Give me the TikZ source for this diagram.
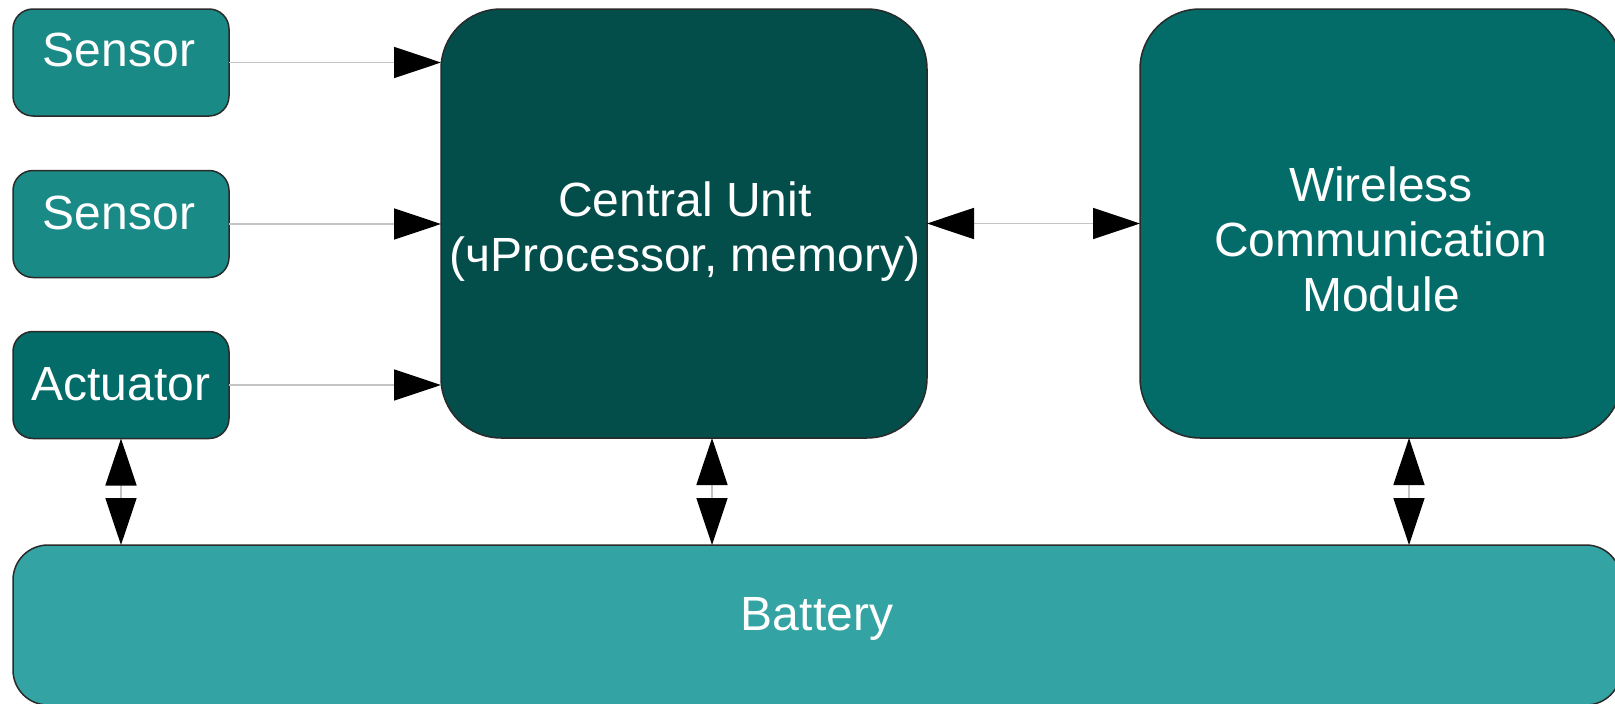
\documentclass[tikz,border=0pt]{standalone}
\usepackage{fontspec}
\setmainfont{Liberation Sans}
\usetikzlibrary{arrows.meta}

\definecolor{sensorfill}{HTML}{1A8A87}
\definecolor{actfill}{HTML}{036B68}
\definecolor{cpufill}{HTML}{034D4B}
\definecolor{radiofill}{HTML}{036B68}
\definecolor{battfill}{HTML}{33A3A3}
\definecolor{edgecol}{HTML}{2A2A2A}
\definecolor{linkcol}{HTML}{C4C4C4}

\begin{document}
\begin{tikzpicture}[x=1pt,y=-1pt,
  block/.style={draw=edgecol, line width=1.5pt, inner sep=0pt, outer sep=0pt},
  smallblock/.style={block, rounded corners=20pt, minimum width=216pt, minimum height=107pt},
  bigblock/.style={block, rounded corners=60pt, minimum height=429pt},
  lbl/.style={text=white, font=\fontsize{48}{55}\selectfont, align=center, inner sep=0pt},
  link/.style={draw=linkcol, line width=1.5pt},
  bighead/.style={-{Triangle[length=47pt,width=31pt,color=black]}},
  bothheads/.style={{Triangle[length=47pt,width=31pt,color=black]}-{Triangle[length=47pt,width=31pt,color=black]}}]
\useasboundingbox (0,0) rectangle (1615,704);

% blocks
\node[smallblock, fill=sensorfill] (s1) at (121,62.5) {};
\node[smallblock, fill=sensorfill] (s2) at (121,224) {};
\node[smallblock, fill=actfill] (act) at (121,385) {};
\node[bigblock, fill=cpufill, minimum width=486pt] (cu) at (684,223.5) {};
\node[bigblock, fill=radiofill, minimum width=482pt] (wm) at (1381,223.5) {};
\node[block, fill=battfill, rounded corners=35pt, minimum width=1608pt, minimum height=160pt] (bat) at (817,625) {};

% labels (base anchor sits on the last line)
\node[lbl, anchor=base] (s1t) at (119,66) {Sensor};
\node[lbl, anchor=base] (s2t) at (119,229) {Sensor};
\node[lbl, anchor=base] (actt) at (121,400) {Actuator};
\node[lbl, anchor=base] (cut) at (685,271) {Central Unit\\(чProcessor, memory)};
\node[lbl, anchor=base] (wmt) at (1381,311) {Wireless\\Communication\\Module};
\node[lbl, anchor=base] (batt) at (817,630) {Battery};

% inputs to the central unit
\draw[link, bighead] (s1.east) -- (s1.east -| cu.west);
\draw[link, bighead] (s2.east) -- (s2.east -| cu.west);
\draw[link, bighead] (act.east) -- (act.east -| cu.west);

% central unit <-> wireless module
\draw[link, bothheads] (cu.east) -- (wm.west);

% power lines to the battery
\draw[link, bothheads] (act.south) -- (act.south |- bat.north);
\draw[link, bothheads] ([xshift=28pt]cu.south) -- ([xshift=28pt]cu.south |- bat.north);
\draw[link, bothheads] ([xshift=28pt]wm.south) -- ([xshift=28pt]wm.south |- bat.north);
\end{tikzpicture}
\end{document}
